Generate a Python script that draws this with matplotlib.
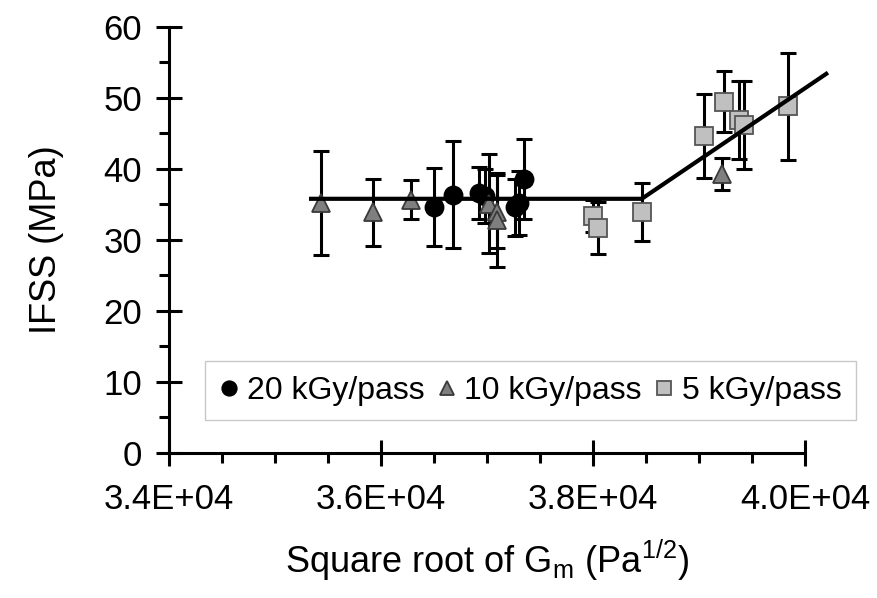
import matplotlib
matplotlib.use("Agg")
import matplotlib.pyplot as plt
from matplotlib.ticker import MultipleLocator, FuncFormatter

# 20 kGy/pass (circles)
c20_x = [36500, 36680, 36920, 36980, 37260, 37300, 37350]
c20_y = [34.7, 36.4, 36.6, 36.2, 34.6, 35.2, 38.6]
c20_err = [5.5, 7.5, 3.7, 3.8, 4.0, 4.5, 5.6]

# 10 kGy/pass (triangles)
t10_x = [35430, 35925, 36280, 37020, 37095, 37095, 39220]
t10_y = [35.2, 33.9, 35.7, 35.1, 34.0, 32.8, 39.3]
t10_err = [7.3, 4.7, 2.7, 7.0, 5.1, 6.6, 2.2]

# 5 kGy/pass (squares)
s5_x = [38000, 38050, 38460, 39050, 39240, 39380, 39420, 39840]
s5_y = [33.4, 31.7, 33.9, 44.6, 49.5, 46.9, 46.2, 48.8]
s5_err = [2.3, 3.7, 4.1, 5.9, 4.3, 5.5, 6.2, 7.6]

# bilinear fit
fit_x = [35340, 38460, 40200]
fit_y = [35.8, 35.8, 53.4]


def format_sci(x, pos):
    """Excel style scientific tick labels"""
    return f"{x:.1E}"


def main():
    plt.rcParams["font.family"] = ["Liberation Sans", "DejaVu Sans"]

    fig = plt.figure(figsize=(8.78, 5.98), dpi=100)
    ax = fig.add_axes([0.1925, 0.2425, 0.7244, 0.7124])

    series = [
        (c20_x, c20_y, c20_err, "o", "black", "black", "20 kGy/pass"),
        (t10_x, t10_y, t10_err, "^", "#7f7f7f", "#3a3a3a", "10 kGy/pass"),
        (s5_x, s5_y, s5_err, "s", "#c0c0c0", "#555555", "5 kGy/pass"),
    ]
    for xs, ys, errs, mk, fc, ec, lab in series:
        ax.errorbar(xs, ys, yerr=errs, fmt="none", ecolor="black",
                    elinewidth=2.2, capsize=6, capthick=2.2, zorder=2)
        ax.plot(xs, ys, linestyle="none", marker=mk, markersize=13,
                markerfacecolor=fc, markeredgecolor=ec,
                markeredgewidth=1.3, label=lab, zorder=3)

    ax.plot(fit_x, fit_y, color="black", linewidth=3, zorder=4,
            clip_on=False)

    ax.set_xlim(34000, 40000)
    ax.set_ylim(0, 60)
    ax.xaxis.set_major_locator(MultipleLocator(2000))
    ax.xaxis.set_minor_locator(MultipleLocator(500))
    ax.xaxis.set_major_formatter(FuncFormatter(format_sci))
    ax.yaxis.set_major_locator(MultipleLocator(10))
    ax.yaxis.set_minor_locator(MultipleLocator(5))

    for side in ["top", "right"]:
        ax.spines[side].set_visible(False)
    for side in ["left", "bottom"]:
        ax.spines[side].set_linewidth(2.2)

    ax.tick_params(which="major", direction="inout", length=19, width=2.2,
                   labelsize=25)
    ax.tick_params(axis="x", which="major", pad=12)
    ax.tick_params(axis="y", which="major", pad=10)
    ax.tick_params(which="minor", direction="out", length=7, width=2.2)

    ax.set_xlabel("Square root of G$_\\mathregular{m}$ (Pa$^\\mathregular{1/2}$)",
                  fontsize=26, labelpad=16)
    ax.set_ylabel("IFSS (MPa)", fontsize=26, labelpad=28)

    leg = ax.legend(loc="lower left", bbox_to_anchor=(0.057, 0.077),
                    ncol=3, fontsize=23, markerscale=0.8,
                    handlelength=0.6, handletextpad=0.25, columnspacing=0.4,
                    borderpad=0.45, borderaxespad=0, fancybox=False,
                    framealpha=1)
    leg.get_frame().set_edgecolor("#c8c8c8")
    leg.get_frame().set_linewidth(1.0)

    fig.savefig("out.png", dpi=100)


if __name__ == "__main__":
    main()
